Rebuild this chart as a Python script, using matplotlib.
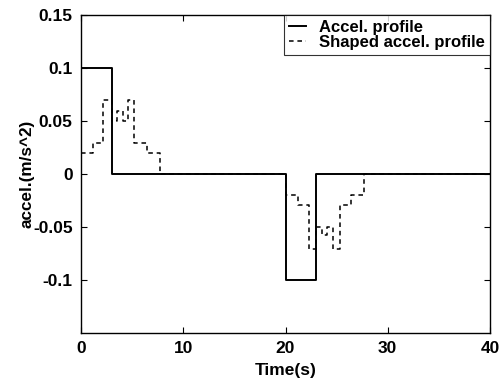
import matplotlib
matplotlib.use("Agg")
import matplotlib.pyplot as plt

# Unshaped acceleration profile (step breakpoints)
accel_t = [0, 3, 3, 20, 20, 23, 23, 40]
accel_v = [0.1, 0.1, 0, 0, -0.1, -0.1, 0, 0]

# Shaped acceleration profile (step: value holds from t[i] to t[i+1])
shaped_t = [0, 1.15, 2.2, 3.0, 3.5, 4.1, 4.6, 5.15, 6.45, 7.7,
            20, 21.2, 22.3, 23.0, 23.55, 24.1, 24.6, 25.3, 26.45, 27.65, 40]
shaped_v = [0.02, 0.029, 0.07, 0.05, 0.059, 0.05, 0.07, 0.029, 0.02, 0.0,
            -0.02, -0.029, -0.071, -0.05, -0.058, -0.05, -0.071, -0.029, -0.02, 0.0, 0.0]

xticks = [0, 10, 20, 30, 40]
yticks = [-0.1, -0.05, 0, 0.05, 0.1, 0.15]
ytick_labels = ["-0.1", "-0.05", "0", "0.05", "0.1", "0.15"]

plt.rcParams['font.family'] = ['Liberation Sans', 'DejaVu Sans']
plt.rcParams['font.weight'] = 'bold'

fig = plt.figure(figsize=(5.02, 3.80), dpi=100)
ax = fig.add_axes([81/502, 1 - 333/380, (490-81)/502, (333-15)/380])

ax.plot(accel_t, accel_v, color='black', lw=1.4, label='Accel. profile')
ax.step(shaped_t, shaped_v, where='post', color='black', lw=1.1,
        linestyle=(0, (3, 2.5)), label='Shaped accel. profile')

ax.set_xlim(0, 40)
ax.set_ylim(-0.15, 0.15)
ax.set_xticks(xticks)
ax.set_xticklabels([str(v) for v in xticks])
ax.set_yticks(yticks)
ax.set_yticklabels(ytick_labels)
ax.tick_params(direction='in', length=4, width=0.8, top=True, right=True,
               labelsize=12.5, pad=6)
for lab in ax.get_xticklabels() + ax.get_yticklabels():
    lab.set_fontweight('bold')
for s in ax.spines.values():
    s.set_linewidth(1.0)

ax.set_xlabel('Time(s)', fontsize=12.5, fontweight='bold', labelpad=5)
ax.set_ylabel('accel.(m/s^2)', fontsize=12.3, fontweight='bold', labelpad=-1)

leg = ax.legend(loc='upper right', fontsize=12, frameon=True, fancybox=False,
                edgecolor='black', handlelength=1.0, handletextpad=0.8,
                borderaxespad=0, borderpad=0.3, labelspacing=0.0)
leg.get_frame().set_linewidth(0.8)

fig.savefig('out.png', dpi=100)
